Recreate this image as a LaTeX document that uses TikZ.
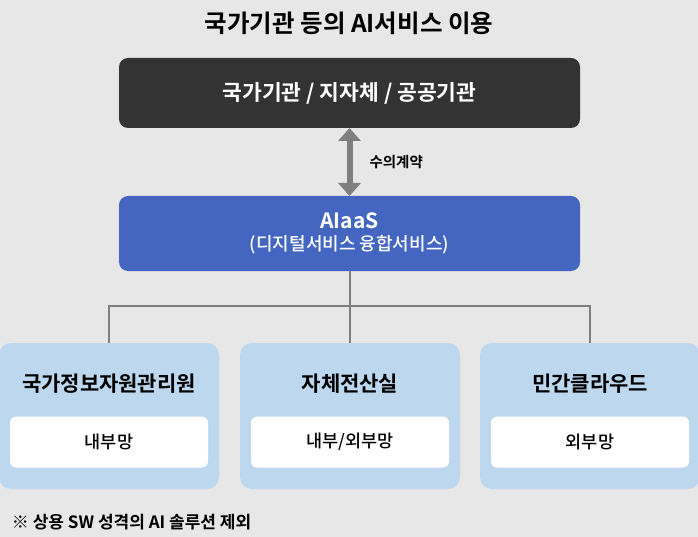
\documentclass[tikz,border=0pt]{standalone}
\usepackage{fontspec}
\setmainfont{Noto Sans CJK KR Medium}
\newfontfamily\krbold{Noto Sans CJK KR Bold}
\usetikzlibrary{positioning, arrows.meta}

\definecolor{bgGray}{HTML}{E7E7E7}
\definecolor{topDark}{HTML}{333333}
\definecolor{svcBlue}{HTML}{4466C1}
\definecolor{linkGray}{HTML}{7F7F7F}
\definecolor{siteBlue}{HTML}{BDD7EE}

\begin{document}
\begin{tikzpicture}[
    x=1pt, y=-1pt,
    every node/.style={inner sep=0pt, outer sep=0pt},
    bigbox/.style={rounded corners=9pt, minimum width=461pt},
    sitebox/.style={fill=siteBlue, rounded corners=12pt, minimum width=220pt, minimum height=146pt},
    netbox/.style={fill=white, rounded corners=6pt, minimum width=198pt, minimum height=51pt, font=\fontsize{17.5}{20}\selectfont},
    sitetitle/.style={font=\krbold\fontsize{21}{24}\selectfont},
    link/.style={draw=linkGray, line width=2pt}
]

    \useasboundingbox[fill=bgGray] (0,0) rectangle (698,537);

    \node (title) at (349,23) {\krbold\fontsize{24.5}{28}\selectfont 국가기관 등의 AI서비스 이용};

    \node[bigbox, fill=topDark, minimum height=70pt, text=white,
          font=\krbold\fontsize{21.5}{25}\selectfont] (agency) at (349.5,93) {국가기관 / 지자체 / 공공기관};
    \node[bigbox, fill=svcBlue, minimum height=75pt, text=white, align=center,
          below=68pt of agency] (aiaas)
        {{\krbold\fontsize{21}{24}\selectfont AIaaS}\\[6pt]{\fontsize{18}{21}\selectfont (디지털서비스 융합서비스)}};

    \draw[linkGray, line width=6pt, {Triangle[width=22pt,length=13pt]}-{Triangle[width=22pt,length=13pt]}]
        (agency.south) -- (aiaas.north);
    \node[right=20pt of agency.south, yshift=-34pt, font=\krbold\fontsize{14.5}{17}\selectfont] (contract) {수의계약};

    % sites
    \node[sitebox] (nirs) at (109,416) {};
    \node[sitebox] (own) at (350,416) {};
    \node[sitebox] (cloud) at (590,416) {};

    \node[sitetitle] (nirsT) at (109,384) {국가정보자원관리원};
    \node[sitetitle] (ownT) at (350,384) {자체전산실};
    \node[sitetitle] (cloudT) at (590,384) {민간클라우드};

    \node[netbox] (nirsN) at (109,442) {내부망};
    \node[netbox] (ownN) at (350,442) {내부/외부망};
    \node[netbox] (cloudN) at (590,442) {외부망};

    \coordinate (split) at (349.5,306);
    \draw[link] (aiaas.south) -- (split);
    \draw[link] (nirs.north) |- (split) -| (cloud.north);
    \draw[link] (split) -| (own.north);

    \node[anchor=west, font=\krbold\fontsize{17}{20}\selectfont] (note) at (12,522) {※ 상용 SW 성격의 AI 솔루션 제외};

\end{tikzpicture}
\end{document}
